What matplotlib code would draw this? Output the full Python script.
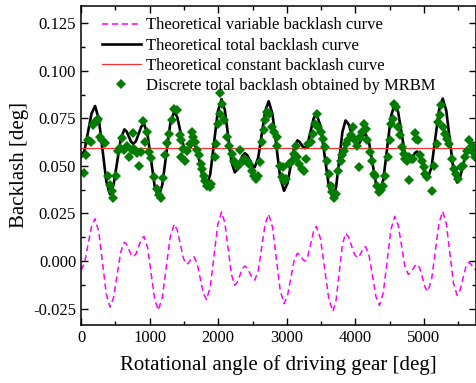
"""
Backlash of the driving gear vs. rotational angle:
theoretical variable / total / constant backlash and the MRBM discrete points.
"""

import numpy as np
import matplotlib
matplotlib.use("Agg")
import matplotlib.pyplot as plt
from matplotlib.ticker import MultipleLocator, FormatStrFormatter

# --- Data ---
const_backlash = 0.0593  # deg

var_x = [0, 51, 102, 153, 204, 258, 313, 368, 422, 474, 527, 579, 631, 664, 697, 729,
         762, 801, 840, 878, 917, 969, 1022, 1074, 1126, 1184, 1242, 1300, 1358, 1403,
         1448, 1493, 1538, 1565, 1592, 1618, 1645, 1691, 1737, 1783, 1829, 1884, 1939,
         1993, 2048, 2096, 2145, 2193, 2241, 2278, 2314, 2351, 2387, 2424, 2460, 2497,
         2533, 2584, 2635, 2685, 2736, 2792, 2848, 2904, 2960, 3009, 3057, 3106, 3154,
         3182, 3210, 3238, 3266, 3307, 3349, 3390, 3431, 3492, 3552, 3613, 3673, 3719,
         3765, 3811, 3857, 3900, 3942, 3985, 4027, 4057, 4088, 4118, 4148, 4199, 4250,
         4301, 4352, 4408, 4464, 4519, 4575, 4624, 4673, 4721, 4770, 4803, 4836, 4868,
         4901, 4940, 4979, 5017, 5056, 5111, 5165, 5220, 5274, 5326, 5379, 5431, 5483,
         5525, 5568, 5610, 5652, 5679, 5706, 5733, 5760]
var_y = [-0.0048, -0.0009, 0.0087, 0.0183, 0.0222, 0.0154, -0.0010, -0.0174, -0.0242,
         -0.0192, -0.0072, 0.0049, 0.0099, 0.0088, 0.0061, 0.0034, 0.0023, 0.0038, 0.0076,
         0.0114, 0.0129, 0.0072, -0.0065, -0.0202, -0.0259, -0.0193, -0.0033, 0.0128,
         0.0194, 0.0163, 0.0089, 0.0014, -0.0017, -0.0011, 0.0003, 0.0017, 0.0023, -0.0010,
         -0.0090, -0.0170, -0.0203, -0.0136, 0.0028, 0.0191, 0.0258, 0.0202, 0.0066,
         -0.0071, -0.0127, -0.0112, -0.0077, -0.0041, -0.0026, -0.0037, -0.0063, -0.0089,
         -0.0100, -0.0049, 0.0074, 0.0196, 0.0247, 0.0178, 0.0012, -0.0155, -0.0224,
         -0.0185, -0.0092, 0.0002, 0.0041, 0.0035, 0.0021, 0.0006, 0.0000, 0.0027, 0.0091,
         0.0155, 0.0182, 0.0117, -0.0042, -0.0200, -0.0265, -0.0205, -0.0060, 0.0086,
         0.0146, 0.0127, 0.0082, 0.0037, 0.0018, 0.0026, 0.0047, 0.0068, 0.0076, 0.0031,
         -0.0079, -0.0188, -0.0233, -0.0165, 0.0001, 0.0167, 0.0235, 0.0190, 0.0083,
         -0.0025, -0.0070, -0.0062, -0.0044, -0.0025, -0.0017, -0.0038, -0.0088, -0.0138,
         -0.0159, -0.0098, 0.0051, 0.0200, 0.0261, 0.0197, 0.0041, -0.0116, -0.0180,
         -0.0155, -0.0094, -0.0032, -0.0007, -0.0013, -0.0028, -0.0042, -0.0048]

mrbm_x = [44, 73, 107, 141, 180, 204, 238, 252, 277, 311, 349, 398, 422, 451, 471, 510,
          544, 568, 602, 631, 665, 704, 738, 762, 777, 810, 849, 873, 898, 932, 966, 990,
          1019, 1063, 1102, 1131, 1160, 1199, 1228, 1257, 1286, 1320, 1354, 1393,
          1436, 1451, 1461, 1485, 1509, 1548, 1582, 1616, 1630, 1664, 1693, 1713, 1742,
          1761, 1791, 1810, 1839, 1873, 1897, 1946, 1970, 1994, 2019, 2033, 2057, 2091,
          2130, 2164, 2198, 2227, 2261, 2295, 2324, 2358, 2383, 2421, 2455, 2489, 2518,
          2553, 2577, 2616, 2635, 2664, 2684, 2713, 2747, 2781, 2819, 2850,
          2863, 2897, 2926, 2946, 2960, 2994, 3033, 3072, 3106, 3130, 3154, 3179, 3218,
          3252, 3285, 3315, 3349, 3383, 3412, 3441, 3460, 3494, 3528, 3557, 3591, 3615,
          3640, 3664, 3688, 3722, 3751, 3785, 3810, 3834, 3868, 3897, 3931, 3965, 3994,
          4028, 4052, 4062, 4101, 4125, 4149, 4173, 4208, 4247, 4271,
          4290, 4315, 4339, 4373, 4402, 4436, 4470, 4499, 4518, 4547, 4567, 4596, 4615,
          4645, 4679, 4712, 4727, 4751, 4776, 4776, 4810, 4839, 4873, 4887, 4907, 4945,
          4970, 4994, 5018, 5043, 5115, 5149, 5188, 5212, 5237, 5251, 5285, 5309, 5334,
          5372, 5407, 5441, 5470, 5504, 5538, 5567, 5601, 5625, 5664, 5698, 5722, 5746]
mrbm_y = [0.0461, 0.0555, 0.0634, 0.0625, 0.0713, 0.0731, 0.0736, 0.0749, 0.0652, 0.0634,
          0.0620, 0.0449, 0.0401, 0.0366, 0.0334, 0.0449, 0.0577, 0.0595, 0.0648, 0.0585,
          0.0607, 0.0546, 0.0585, 0.0673, 0.0590, 0.0567, 0.0502, 0.0572, 0.0734, 0.0625,
          0.0678, 0.0572, 0.0542, 0.0440, 0.0378, 0.0347, 0.0334, 0.0436, 0.0555, 0.0620,
          0.0669, 0.0740, 0.0801, 0.0793,
          0.0660, 0.0546, 0.0634, 0.0590, 0.0528, 0.0581, 0.0616, 0.0678, 0.0652, 0.0625,
          0.0585, 0.0555, 0.0510, 0.0484, 0.0449, 0.0422, 0.0396, 0.0387, 0.0405, 0.0546,
          0.0616, 0.0722, 0.0775, 0.0881, 0.0828, 0.0740, 0.0652, 0.0607, 0.0563, 0.0528,
          0.0510, 0.0502, 0.0585, 0.0528, 0.0537, 0.0528, 0.0510, 0.0475, 0.0449, 0.0431,
          0.0449, 0.0519, 0.0625, 0.0687, 0.0740, 0.0784, 0.0775, 0.0704, 0.0678, 0.0650,
          0.0607, 0.0502, 0.0440, 0.0493, 0.0422, 0.0431, 0.0510, 0.0528, 0.0563, 0.0607,
          0.0546, 0.0510, 0.0484, 0.0475, 0.0537, 0.0616, 0.0625, 0.0669, 0.0722, 0.0775,
          0.0704, 0.0678, 0.0643, 0.0599, 0.0528, 0.0458, 0.0396, 0.0361, 0.0334, 0.0352,
          0.0475, 0.0528, 0.0555, 0.0581, 0.0616, 0.0634, 0.0660, 0.0704, 0.0634, 0.0607,
          0.0493, 0.0651, 0.0678, 0.0722, 0.0696, 0.0634, 0.0572, 0.0528, 0.0458,
          0.0449, 0.0396, 0.0361, 0.0373, 0.0396, 0.0449, 0.0546, 0.0634, 0.0722, 0.0749,
          0.0828, 0.0810, 0.0704, 0.0660, 0.0599, 0.0563, 0.0537, 0.0528, 0.0546, 0.0426,
          0.0537, 0.0537, 0.0673, 0.0643, 0.0634, 0.0555, 0.0528, 0.0496, 0.0458, 0.0440,
          0.0369, 0.0502, 0.0616, 0.0731, 0.0766, 0.0819, 0.0704, 0.0669, 0.0643, 0.0616,
          0.0537, 0.0484, 0.0458, 0.0431, 0.0493, 0.0502, 0.0546, 0.0581, 0.0634, 0.0607,
          0.0572, 0.0546]

x_ticks = [0, 1000, 2000, 3000, 4000, 5000]
y_ticks = [-0.025, 0.000, 0.025, 0.050, 0.075, 0.100, 0.125]


def main():
    plt.rcParams['font.family'] = ['Liberation Serif', 'DejaVu Serif']
    plt.rcParams['axes.unicode_minus'] = False

    var_x_arr = np.array(var_x)
    var_y_arr = np.array(var_y)
    total_y = const_backlash + var_y_arr

    fig = plt.figure(figsize=(4.77, 3.83), dpi=100)
    ax = fig.add_axes([0.170, 0.152, 0.828, 0.832])

    # --- Curves ---
    ax.plot(var_x_arr, var_y_arr, '--', color='#ff00ff', lw=1.1, dashes=(4, 2.5),
            label='Theoretical variable backlash curve')
    ax.plot(var_x_arr, total_y, '-', color='black', lw=1.9,
            label='Theoretical total backlash curve')
    ax.axhline(const_backlash, color='#ff3030', lw=0.9,
               label='Theoretical constant backlash curve')
    ax.plot(mrbm_x, mrbm_y, 'D', color='#007c00', ms=5, mew=0, ls='none',
            label='Discrete total backlash obtained by MRBM')

    # --- Axes ---
    ax.set_xlim(0, 5760)
    ax.set_ylim(-0.0335, 0.134)
    ax.set_xticks(x_ticks)
    ax.set_yticks(y_ticks)
    ax.xaxis.set_minor_locator(MultipleLocator(500))
    ax.yaxis.set_minor_locator(MultipleLocator(0.0125))
    ax.yaxis.set_major_formatter(FormatStrFormatter('%.3f'))
    ax.tick_params(which='both', direction='in', top=True, right=True,
                   labelsize=12, width=1.0)
    ax.tick_params(which='major', length=5)
    ax.tick_params(which='minor', length=3)
    for sp in ax.spines.values():
        sp.set_linewidth(1.1)

    ax.set_xlabel('Rotational angle of driving gear [deg]', fontsize=15, labelpad=7)
    ax.set_ylabel('Backlash [deg]', fontsize=15, labelpad=3)

    ax.legend(loc='upper left', bbox_to_anchor=(0.045, 0.975), frameon=False,
              fontsize=12, handlelength=2.3, handletextpad=0.3,
              labelspacing=0.25, borderaxespad=0, borderpad=0.2)

    fig.savefig('out.png', dpi=100)
    plt.close(fig)


if __name__ == "__main__":
    main()
